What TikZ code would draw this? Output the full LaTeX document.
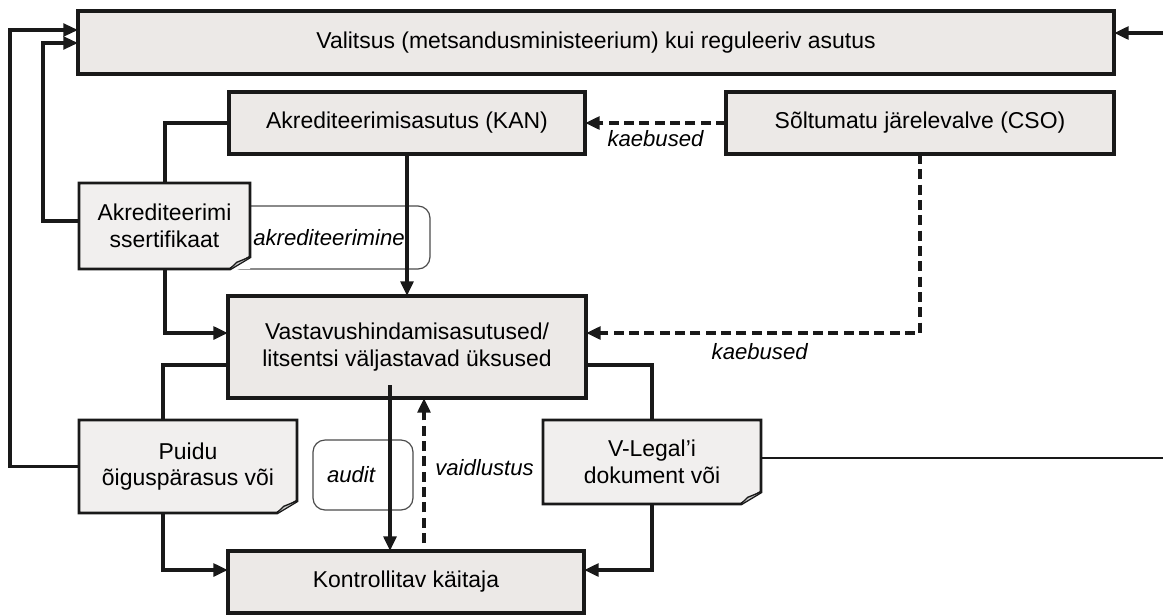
\documentclass[tikz,border=0pt]{standalone}
\usepackage{fontspec}
\setmainfont{Liberation Sans}
\usetikzlibrary{arrows.meta,calc}
\definecolor{boxfill}{RGB}{236,233,231}
\definecolor{docfill}{RGB}{241,239,238}
\definecolor{ink}{RGB}{25,25,25}
\newcommand{\docframe}[1]{%
  \fill[white] ([xshift=-15pt]#1.south east) -- (#1.south east) -- ([yshift=9pt]#1.south east) -- cycle;
  \draw[ink, line width=2.1pt, line join=miter] ([yshift=9pt]#1.south east) -- (#1.north east) -- (#1.north west) -- (#1.south west) -- ([xshift=-15pt]#1.south east) -- cycle;
  \draw[ink, line width=1pt, fill=gray!45] ([xshift=-15pt]#1.south east) -- ([xshift=-10pt,yshift=5pt]#1.south east) -- ([yshift=9pt]#1.south east);
}
\begin{document}
\begin{tikzpicture}[x=0.75pt,y=-0.75pt,
  font=\fontsize{17.2}{20}\selectfont,
  mainbox/.style={draw=ink, line width=3.4pt, fill=boxfill, inner sep=0pt, outer sep=0pt, align=center},
  docbox/.style={fill=docfill, inner sep=0pt, outer sep=0pt, align=center},
  conn/.style={draw=ink, line width=3pt},
  thinconn/.style={draw=ink, line width=2.4pt},
  tip/.style={-{Triangle[length=11pt,width=9.5pt]}},
  dconn/.style={conn, dash pattern=on 7.5pt off 4pt},
  note/.style={draw=gray!60!black, line width=0.9pt, rounded corners=9pt, inner sep=0pt, outer sep=0pt},
  lbl/.style={font=\fontsize{16.6}{20}\selectfont\itshape, inner sep=0pt},
]
\useasboundingbox (0,0) rectangle (1163,615);

% boxes
\node[mainbox, minimum width=777pt, minimum height=47.25pt] (gov) at (596,42.5) {Valitsus (metsandusministeerium) kui reguleeriv asutus};
\node[mainbox, minimum width=267pt, minimum height=46.5pt] (kan) at (407,123) {Akrediteerimisasutus (KAN)};
\node[mainbox, minimum width=291pt, minimum height=46.5pt] (cso) at (920,123) {Sõltumatu järelevalve (CSO)};
\node[note, lbl, minimum width=151.5pt, minimum height=47.25pt] (acc) at (329,237.5) {akrediteerimine};
\node[docbox, minimum width=128.25pt, minimum height=64.5pt] (cert) at (164.5,226) {Akrediteerimi\\ssertifikaat};
\docframe{cert}
\node[mainbox, minimum width=268.5pt, minimum height=76.5pt] (vast) at (407,347) {Vastavushindamisasutused/\\litsentsi väljastavad üksused};
\node[docbox, minimum width=163.5pt, minimum height=69.75pt] (puidu) at (188,466.5) {Puidu\\õiguspärasus või};
\docframe{puidu}
\node[docbox, minimum width=163.5pt, minimum height=63pt] (vleg) at (652,462) {V-Legal’i\\dokument või};
\docframe{vleg}
\node[mainbox, minimum width=267pt, minimum height=46.5pt] (kont) at (406,582) {Kontrollitav käitaja};
\node[note, minimum width=75pt, minimum height=52.5pt] (audbox) at (363,475) {};
\node[lbl] (audlbl) at (351,475) {audit};

% coordinates for free ends
\coordinate (c1) at (10,30);
\coordinate (c2) at (43,43);
\coordinate (rin) at (1163,33);
\coordinate (rout) at (1163,458);
\coordinate (aud) at (390,385);
\coordinate (vd) at (424,543);

% connectors
\draw[thinconn, tip] (puidu.west) -| (c1) -- (c1 -| gov.west);
\draw[thinconn, tip] ([yshift=3.75pt]cert.west) -| (c2) -- (c2 -| gov.west);
\draw[conn, tip] (rin) -- (rin -| gov.east);
\draw[conn] (kan.west) -| (cert.north);
\draw[conn, tip] (cert.south) |- ([yshift=10.5pt]vast.west);
\draw[conn, tip] (kan.south) -- (vast.north);
\draw[dconn, tip] (cso.west) -- node[lbl, below=4pt] {kaebused} (kan.east);
\draw[dconn, tip] (cso.south) |- node[lbl, pos=0.74, below=6pt] {kaebused} ([yshift=10.5pt]vast.east);
\draw[conn] ([yshift=-13.5pt]vast.west) -| ([xshift=-18.75pt]puidu.north);
\draw[conn, tip] ([xshift=-18.75pt]puidu.south) |- ([yshift=9pt]kont.west);
\draw[conn] ([yshift=-13.5pt]vast.east) -| (vleg.north);
\draw[conn, tip] (vleg.south) |- ([yshift=9pt]kont.east);
\draw[thinconn, line width=2pt] (vleg.east |- rout) -- (rout);
\draw[conn, tip] (aud) -- (aud |- kont.north);
\draw[dconn, tip] (vd) -- node[lbl, pos=0.52, right=7pt] {vaidlustus} (vd |- vast.south);
\end{tikzpicture}
\end{document}
